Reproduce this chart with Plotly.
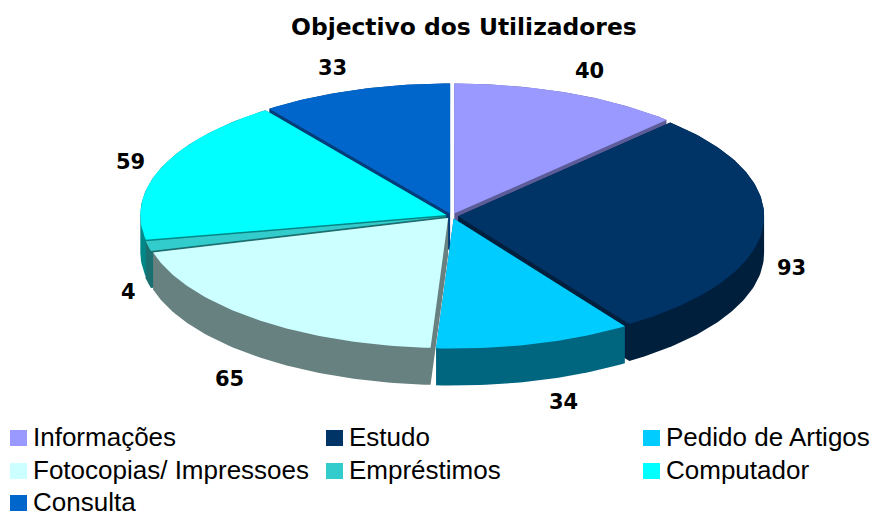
import math
import plotly.graph_objects as go

# Data
categories = ["Informações", "Estudo", "Pedido de Artigos", "Fotocopias/ Impressoes",
              "Empréstimos", "Computador", "Consulta"]
values = [40, 93, 34, 65, 4, 59, 33]
top_colors = ["#9999FF", "#003366", "#00CCFF", "#CCFFFF", "#33CCCC", "#00FFFF", "#0066CC"]
wall_colors = ["#5C5C99", "#001F3D", "#006680", "#678080", "#1A7070", "#008888", "#003D7A"]

# Pie projection (axis units equal window pixels)
CX, CY, RX, RY, DEPTH, EXPLODE = 452, 216, 306, 130, 37, 0.02
# Label offsets from the rim point at each slice's mid angle
label_offsets = [(21, -22), (29, 41), (29, 58), (-26, 60), (-20, 46), (-31, -6), (-22, -22)]


def hull(points):
    pts = sorted(set(points))
    def half(seq):
        out = []
        for p in seq:
            while len(out) > 1 and ((out[-1][0]-out[-2][0])*(p[1]-out[-2][1])
                                    - (out[-1][1]-out[-2][1])*(p[0]-out[-2][0])) <= 0:
                out.pop()
            out.append(p)
        return out[:-1]
    return half(pts) + half(pts[::-1])


total = sum(values)
slices = []
start = 0.0
for i, v in enumerate(values):
    span = v / total * 2 * math.pi
    mid = start + span / 2
    ox = CX + EXPLODE * RX * math.sin(mid)
    oy = CY - EXPLODE * RY * math.cos(mid)
    n = max(3, int(span / 0.02))
    pts = [(ox, oy)]
    for k in range(n + 1):
        a = start + span * k / n
        pts.append((ox + RX * math.sin(a), oy - RY * math.cos(a)))
    slices.append(dict(i=i, mid=mid, pts=pts, ox=ox, oy=oy))
    start += span

fig = go.Figure()
for s in sorted(slices, key=lambda s: -math.cos(s["mid"])):
    i = s["i"]
    h = hull(s["pts"] + [(x, y + DEPTH) for x, y in s["pts"]])
    h.append(h[0])
    fig.add_trace(go.Scatter(x=[p[0] for p in h], y=[p[1] for p in h], mode="lines",
                             fill="toself", fillcolor=wall_colors[i],
                             line=dict(width=0, color=wall_colors[i]),
                             hoverinfo="skip", showlegend=False))
    top = s["pts"] + [s["pts"][0]]
    fig.add_trace(go.Scatter(x=[p[0] for p in top], y=[p[1] for p in top], mode="lines",
                             fill="toself", fillcolor=top_colors[i],
                             line=dict(width=0, color=top_colors[i]),
                             name=categories[i], text=str(values[i]),
                             hoverinfo="name+text", showlegend=False))

annotations = [dict(text="<b>Objectivo dos Utilizadores</b>", xref="x", yref="y", x=464, y=27,
                    showarrow=False, font=dict(family="DejaVu Sans", size=23.4, color="#000"))]
for s in slices:
    i = s["i"]
    dx, dy = label_offsets[i]
    annotations.append(dict(
        text=f"<b>{values[i]}</b>", xref="x", yref="y",
        x=s["ox"] + RX * math.sin(s["mid"]) + dx,
        y=s["oy"] - RY * math.cos(s["mid"]) + dy,
        showarrow=False, font=dict(family="DejaVu Sans", size=21, color="#000")))

# Legend: three columns, rows top-down
LEG_X = [10, 326, 643]
LEG_Y = [438, 471, 503]
shapes = []
for i, name in enumerate(categories):
    row, col = divmod(i, 3)
    x, y = LEG_X[col], LEG_Y[row]
    shapes.append(dict(type="rect", xref="x", yref="y", x0=x, x1=x + 17, y0=y - 8, y1=y + 8,
                       fillcolor=top_colors[i], line=dict(width=0)))
    annotations.append(dict(text=name, xref="x", yref="y", x=x + 21, y=y - 1, xanchor="left",
                            showarrow=False, font=dict(family="Liberation Sans", size=26, color="#000")))

fig.update_layout(
    width=874, height=512,
    margin=dict(l=0, r=0, t=0, b=0), autosize=False,
    paper_bgcolor="#fff", plot_bgcolor="#fff", showlegend=False,
    xaxis=dict(range=[0, 874], visible=False, fixedrange=True),
    yaxis=dict(range=[512, 0], visible=False, fixedrange=True),
    annotations=annotations, shapes=shapes,
)
fig.write_html("out.html", config=dict(displayModeBar=False),
               post_script="document.body.style.margin='0';document.body.style.overflow='hidden';")
